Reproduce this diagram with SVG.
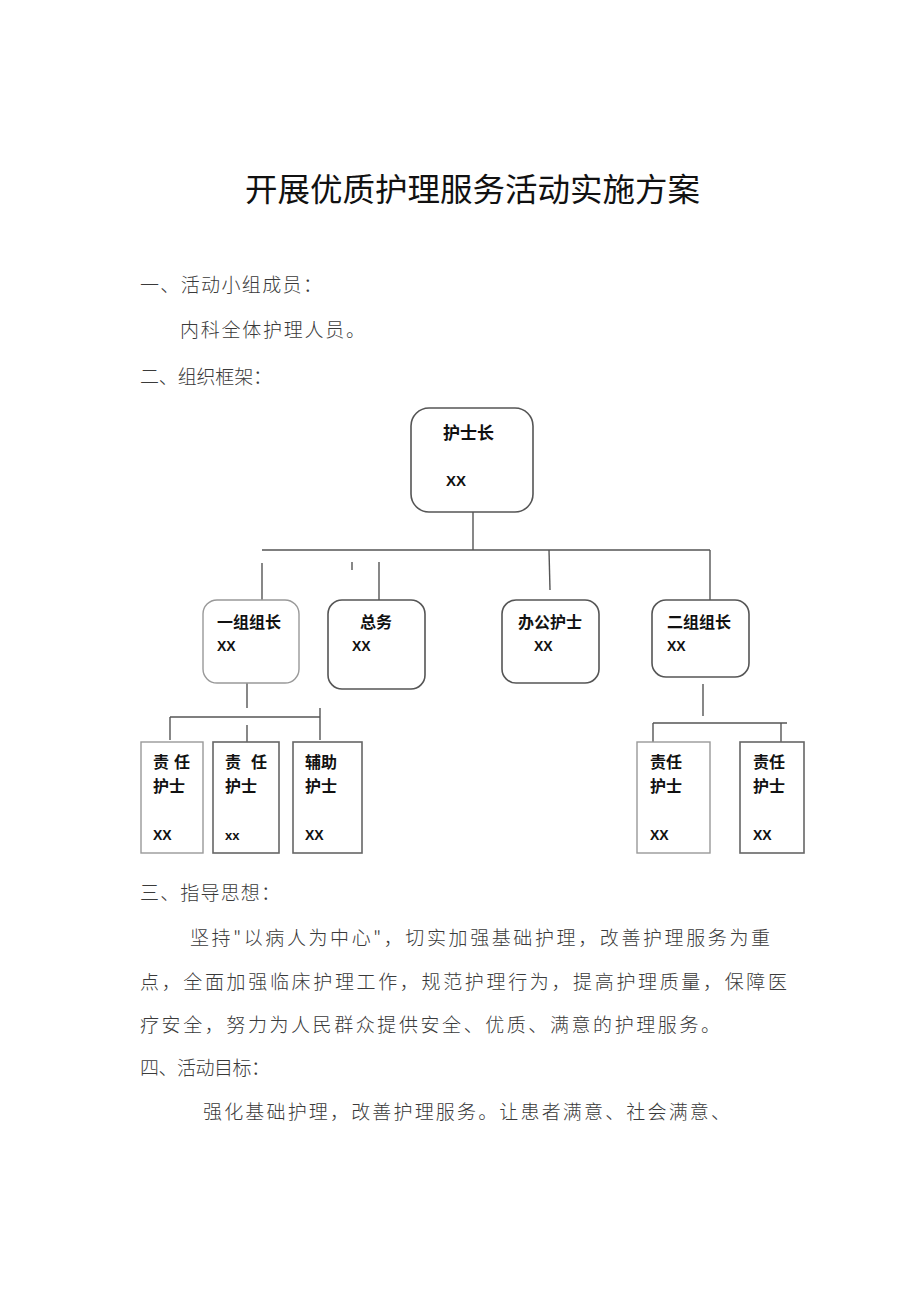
<svg xmlns="http://www.w3.org/2000/svg" width="920" height="1302" viewBox="0 0 920 1302">
<style>
.title{font-family:"Noto Sans CJK SC",sans-serif;font-size:32px;fill:#111}
.body{font-family:"Noto Sans CJK SC",sans-serif;font-size:19px;fill:#3a3a3a;font-weight:300}
.lbl{font-family:"Noto Sans CJK SC",sans-serif;font-size:16px;font-weight:bold;fill:#111}
.xx{font-family:"Liberation Sans",sans-serif;font-size:14px;font-weight:bold;fill:#111}
.rbox{fill:#fff;stroke:#555;stroke-width:1.6}
.rbox2{fill:#fff;stroke:#999;stroke-width:1.4}
.box{fill:#fff;stroke:#666;stroke-width:1.6}
.box2{fill:#fff;stroke:#999;stroke-width:1.4}
.con line{stroke:#555;stroke-width:1.4}
</style>
<rect width="920" height="1302" fill="#fff"/>
<text class="title" x="245" y="201" textLength="455" lengthAdjust="spacingAndGlyphs">开展优质护理服务活动实施方案</text>
<g id="text">
<text class="body" x="140" y="292" textLength="182" lengthAdjust="spacing">一、活动小组成员：</text>
<text class="body" x="180" y="337" textLength="185" lengthAdjust="spacing">内科全体护理人员。</text>
<text class="body" x="140" y="384" textLength="132" lengthAdjust="spacing">二、组织框架：</text>
<text class="body" x="140" y="900" textLength="140" lengthAdjust="spacing">三、指导思想：</text>
<text class="body" x="190" y="945" textLength="580" lengthAdjust="spacing">坚持"以病人为中心"，切实加强基础护理，改善护理服务为重</text>
<text class="body" x="140" y="989" textLength="647" lengthAdjust="spacing">点，全面加强临床护理工作，规范护理行为，提高护理质量，保障医</text>
<text class="body" x="140" y="1032" textLength="580" lengthAdjust="spacing">疗安全，努力为人民群众提供安全、优质、满意的护理服务。</text>
<text class="body" x="140" y="1075" textLength="130" lengthAdjust="spacing">四、活动目标：</text>
<text class="body" x="203" y="1119" textLength="527" lengthAdjust="spacing">强化基础护理，改善护理服务。让患者满意、社会满意、</text>
</g>
<g id="connectors" class="con">
<line x1="473" y1="512" x2="473" y2="550"/>
<line x1="262" y1="550" x2="710" y2="550"/>
<line x1="262" y1="563" x2="262" y2="600"/>
<line x1="352" y1="562" x2="352" y2="570"/>
<line x1="379" y1="562" x2="379" y2="600"/>
<line x1="549" y1="550" x2="550" y2="590"/>
<line x1="710" y1="550" x2="710" y2="600"/>
<line x1="247" y1="683" x2="247" y2="708"/>
<line x1="170" y1="717" x2="320" y2="717"/>
<line x1="170" y1="717" x2="170" y2="740"/>
<line x1="247" y1="725" x2="247" y2="742"/>
<line x1="320" y1="708" x2="320" y2="740"/>
<line x1="703" y1="684" x2="703" y2="716"/>
<line x1="653" y1="723" x2="787" y2="723"/>
<line x1="653" y1="723" x2="653" y2="742"/>
<line x1="781" y1="723" x2="781" y2="742"/>
</g>
<g id="n-hushizhang">
<rect class="rbox" x="411" y="408" width="122" height="104" rx="18"/>
<text class="lbl" x="443" y="439" style="font-size:17px">护士长</text>
<text class="xx" x="446" y="486" style="font-size:15px">XX</text>
</g>
<g id="n-group1">
<rect class="rbox2" x="203" y="600" width="96" height="83" rx="14"/>
<text class="lbl" x="217" y="628">一组组长</text>
<text class="xx" x="217" y="651">XX</text>
</g>
<g id="n-zongwu">
<rect class="rbox" x="328" y="600" width="97" height="89" rx="14"/>
<text class="lbl" x="360" y="628">总务</text>
<text class="xx" x="352" y="651">XX</text>
</g>
<g id="n-office">
<rect class="rbox" x="502" y="600" width="97" height="83" rx="14"/>
<text class="lbl" x="518" y="628">办公护士</text>
<text class="xx" x="534" y="651">XX</text>
</g>
<g id="n-group2">
<rect class="rbox" x="652" y="600" width="97" height="77" rx="14"/>
<text class="lbl" x="667" y="628">二组组长</text>
<text class="xx" x="667" y="651">XX</text>
</g>
<g id="n-c1">
<rect class="box2" x="141" y="742" width="62" height="111"/>
<text class="lbl" x="153" y="768" textLength="37" lengthAdjust="spacing">责 任</text>
<text class="lbl" x="153" y="792">护士</text>
<text class="xx" x="153" y="840">XX</text>
</g>
<g id="n-c2">
<rect class="box" x="213" y="742" width="66" height="111"/>
<text class="lbl" x="225" y="768" textLength="42" lengthAdjust="spacing">责 任</text>
<text class="lbl" x="225" y="792">护士</text>
<text class="xx" x="225" y="840" style="font-size:13px">xx</text>
</g>
<g id="n-c3">
<rect class="box" x="293" y="742" width="69" height="111"/>
<text class="lbl" x="305" y="768">辅助</text>
<text class="lbl" x="305" y="792">护士</text>
<text class="xx" x="305" y="840">XX</text>
</g>
<g id="n-c4">
<rect class="box2" x="637" y="742" width="73" height="111"/>
<text class="lbl" x="650" y="768">责任</text>
<text class="lbl" x="650" y="792">护士</text>
<text class="xx" x="650" y="840">XX</text>
</g>
<g id="n-c5">
<rect class="box" x="740" y="742" width="64" height="111"/>
<text class="lbl" x="753" y="768">责任</text>
<text class="lbl" x="753" y="792">护士</text>
<text class="xx" x="753" y="840">XX</text>
</g>
</svg>
